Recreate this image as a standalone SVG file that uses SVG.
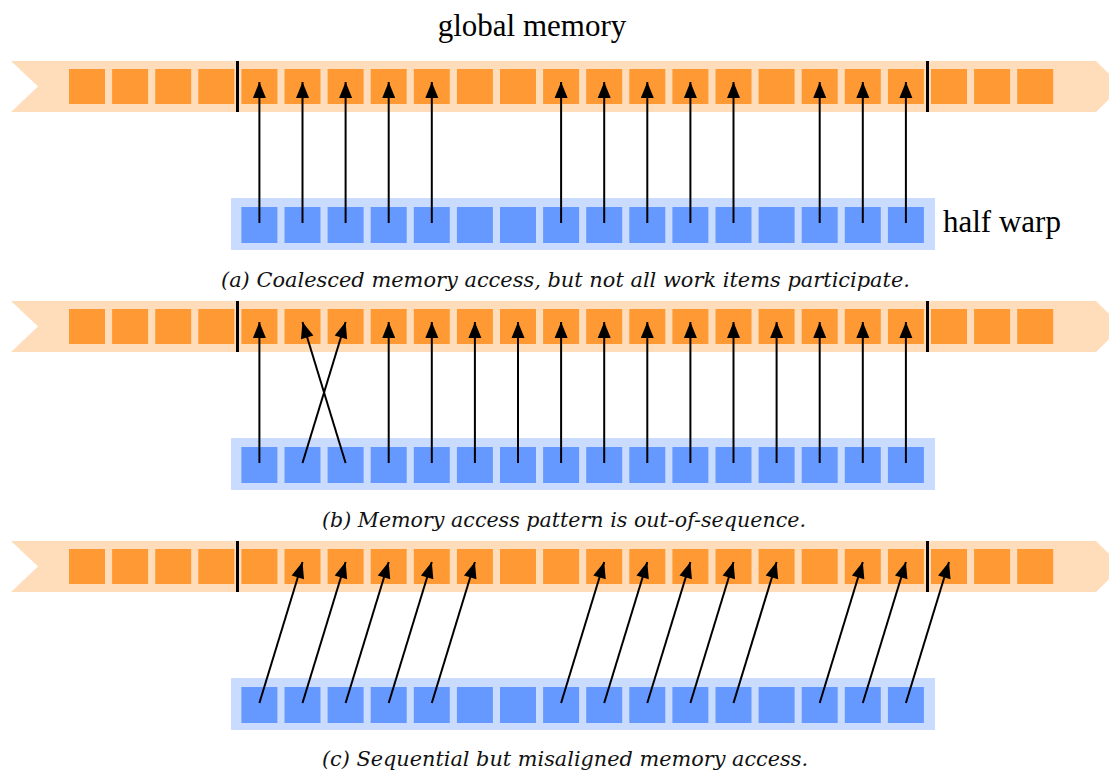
<svg xmlns="http://www.w3.org/2000/svg" xmlns:xlink="http://www.w3.org/1999/xlink" width="1109" height="771" viewBox="0 0 1109 771">
  <style>
    .band { fill: #FFDDBB; }
    .cell { fill: #FF9933; }
    .warp { fill: #C9DCFF; }
    .lane { fill: #6699FF; }
    .sep { stroke: #000; stroke-width: 3; }
    .acc { stroke: #000; stroke-width: 2; fill: none; marker-end: url(#head); }
    .label { font-family: "Liberation Serif", "Times New Roman", serif; font-size: 31px; fill: #000; }
    .caption { font-family: "DejaVu Serif", "Liberation Serif", serif; font-style: italic; font-size: 21px; fill: #111; }
  </style>
  <defs>
    <marker id="head" markerUnits="userSpaceOnUse" markerWidth="20" markerHeight="16" viewBox="-17 -8 20 16" refX="0" refY="0" orient="auto">
      <path d="M0,0 L-16,-6.5 L-16,6.5 Z" fill="#000"/>
    </marker>
    <!-- global memory strip: ribbon, 23 cells, segment boundaries -->
    <g id="memory">
      <polygon class="band" points="11,61 1096,61 1122,86.5 1096,112 11,112 38,86.5"/>
      <rect class="cell" x="69" y="69" width="36" height="35"/>
      <rect class="cell" x="112.1" y="69" width="36" height="35"/>
      <rect class="cell" x="155.2" y="69" width="36" height="35"/>
      <rect class="cell" x="198.3" y="69" width="36" height="35"/>
      <rect class="cell" x="241.4" y="69" width="36" height="35"/>
      <rect class="cell" x="284.5" y="69" width="36" height="35"/>
      <rect class="cell" x="327.6" y="69" width="36" height="35"/>
      <rect class="cell" x="370.7" y="69" width="36" height="35"/>
      <rect class="cell" x="413.8" y="69" width="36" height="35"/>
      <rect class="cell" x="456.9" y="69" width="36" height="35"/>
      <rect class="cell" x="500" y="69" width="36" height="35"/>
      <rect class="cell" x="543.1" y="69" width="36" height="35"/>
      <rect class="cell" x="586.2" y="69" width="36" height="35"/>
      <rect class="cell" x="629.3" y="69" width="36" height="35"/>
      <rect class="cell" x="672.4" y="69" width="36" height="35"/>
      <rect class="cell" x="715.5" y="69" width="36" height="35"/>
      <rect class="cell" x="758.6" y="69" width="36" height="35"/>
      <rect class="cell" x="801.7" y="69" width="36" height="35"/>
      <rect class="cell" x="844.8" y="69" width="36" height="35"/>
      <rect class="cell" x="887.9" y="69" width="36" height="35"/>
      <rect class="cell" x="931" y="69" width="36" height="35"/>
      <rect class="cell" x="974.1" y="69" width="36" height="35"/>
      <rect class="cell" x="1017.2" y="69" width="36" height="35"/>
      <line class="sep" x1="237.5" y1="61" x2="237.5" y2="112"/>
      <line class="sep" x1="927.5" y1="61" x2="927.5" y2="112"/>
    </g>
    <!-- half warp: 16 work items -->
    <g id="halfwarp">
      <rect class="warp" x="231" y="198" width="704" height="52"/>
      <rect class="lane" x="241.4" y="207" width="36" height="36"/>
      <rect class="lane" x="284.5" y="207" width="36" height="36"/>
      <rect class="lane" x="327.6" y="207" width="36" height="36"/>
      <rect class="lane" x="370.7" y="207" width="36" height="36"/>
      <rect class="lane" x="413.8" y="207" width="36" height="36"/>
      <rect class="lane" x="456.9" y="207" width="36" height="36"/>
      <rect class="lane" x="500" y="207" width="36" height="36"/>
      <rect class="lane" x="543.1" y="207" width="36" height="36"/>
      <rect class="lane" x="586.2" y="207" width="36" height="36"/>
      <rect class="lane" x="629.3" y="207" width="36" height="36"/>
      <rect class="lane" x="672.4" y="207" width="36" height="36"/>
      <rect class="lane" x="715.5" y="207" width="36" height="36"/>
      <rect class="lane" x="758.6" y="207" width="36" height="36"/>
      <rect class="lane" x="801.7" y="207" width="36" height="36"/>
      <rect class="lane" x="844.8" y="207" width="36" height="36"/>
      <rect class="lane" x="887.9" y="207" width="36" height="36"/>
    </g>
  </defs>

  <text class="label" x="532" y="36" text-anchor="middle">global memory</text>
  <text class="label" x="943" y="232">half warp</text>

  <!-- (a) coalesced, some work items idle -->
  <g id="panel-a">
    <use href="#memory" xlink:href="#memory"/>
    <use href="#halfwarp" xlink:href="#halfwarp"/>
    <text class="caption" x="221" y="287" textLength="689" lengthAdjust="spacingAndGlyphs">(a) Coalesced memory access, but not all work items participate.</text>
  </g>
  <g id="connectors-a">
    <line class="acc" x1="259.4" y1="223" x2="259.4" y2="82"/>
    <line class="acc" x1="302.5" y1="223" x2="302.5" y2="82"/>
    <line class="acc" x1="345.6" y1="223" x2="345.6" y2="82"/>
    <line class="acc" x1="388.7" y1="223" x2="388.7" y2="82"/>
    <line class="acc" x1="431.8" y1="223" x2="431.8" y2="82"/>
    <line class="acc" x1="561.1" y1="223" x2="561.1" y2="82"/>
    <line class="acc" x1="604.2" y1="223" x2="604.2" y2="82"/>
    <line class="acc" x1="647.3" y1="223" x2="647.3" y2="82"/>
    <line class="acc" x1="690.4" y1="223" x2="690.4" y2="82"/>
    <line class="acc" x1="733.5" y1="223" x2="733.5" y2="82"/>
    <line class="acc" x1="819.7" y1="223" x2="819.7" y2="82"/>
    <line class="acc" x1="862.8" y1="223" x2="862.8" y2="82"/>
    <line class="acc" x1="905.9" y1="223" x2="905.9" y2="82"/>
  </g>

  <!-- (b) out-of-sequence access -->
  <g id="panel-b">
    <use href="#memory" xlink:href="#memory" y="240"/>
    <use href="#halfwarp" xlink:href="#halfwarp" y="240"/>
    <text class="caption" x="322" y="527" textLength="484" lengthAdjust="spacingAndGlyphs">(b) Memory access pattern is out-of-sequence.</text>
  </g>
  <g id="connectors-b">
    <line class="acc" x1="259.4" y1="463" x2="259.4" y2="322"/>
    <line class="acc" x1="302.5" y1="463" x2="345.6" y2="322"/>
    <line class="acc" x1="345.6" y1="463" x2="302.5" y2="322"/>
    <line class="acc" x1="388.7" y1="463" x2="388.7" y2="322"/>
    <line class="acc" x1="431.8" y1="463" x2="431.8" y2="322"/>
    <line class="acc" x1="474.9" y1="463" x2="474.9" y2="322"/>
    <line class="acc" x1="518" y1="463" x2="518" y2="322"/>
    <line class="acc" x1="561.1" y1="463" x2="561.1" y2="322"/>
    <line class="acc" x1="604.2" y1="463" x2="604.2" y2="322"/>
    <line class="acc" x1="647.3" y1="463" x2="647.3" y2="322"/>
    <line class="acc" x1="690.4" y1="463" x2="690.4" y2="322"/>
    <line class="acc" x1="733.5" y1="463" x2="733.5" y2="322"/>
    <line class="acc" x1="776.6" y1="463" x2="776.6" y2="322"/>
    <line class="acc" x1="819.7" y1="463" x2="819.7" y2="322"/>
    <line class="acc" x1="862.8" y1="463" x2="862.8" y2="322"/>
    <line class="acc" x1="905.9" y1="463" x2="905.9" y2="322"/>
  </g>

  <!-- (c) sequential, shifted by one cell -->
  <g id="panel-c">
    <use href="#memory" xlink:href="#memory" y="480"/>
    <use href="#halfwarp" xlink:href="#halfwarp" y="480"/>
    <text class="caption" x="322" y="766" textLength="486" lengthAdjust="spacingAndGlyphs">(c) Sequential but misaligned memory access.</text>
  </g>
  <g id="connectors-c">
    <line class="acc" x1="259.4" y1="703" x2="302.5" y2="562"/>
    <line class="acc" x1="302.5" y1="703" x2="345.6" y2="562"/>
    <line class="acc" x1="345.6" y1="703" x2="388.7" y2="562"/>
    <line class="acc" x1="388.7" y1="703" x2="431.8" y2="562"/>
    <line class="acc" x1="431.8" y1="703" x2="474.9" y2="562"/>
    <line class="acc" x1="561.1" y1="703" x2="604.2" y2="562"/>
    <line class="acc" x1="604.2" y1="703" x2="647.3" y2="562"/>
    <line class="acc" x1="647.3" y1="703" x2="690.4" y2="562"/>
    <line class="acc" x1="690.4" y1="703" x2="733.5" y2="562"/>
    <line class="acc" x1="733.5" y1="703" x2="776.6" y2="562"/>
    <line class="acc" x1="819.7" y1="703" x2="862.8" y2="562"/>
    <line class="acc" x1="862.8" y1="703" x2="905.9" y2="562"/>
    <line class="acc" x1="905.9" y1="703" x2="949" y2="562"/>
  </g>
</svg>
